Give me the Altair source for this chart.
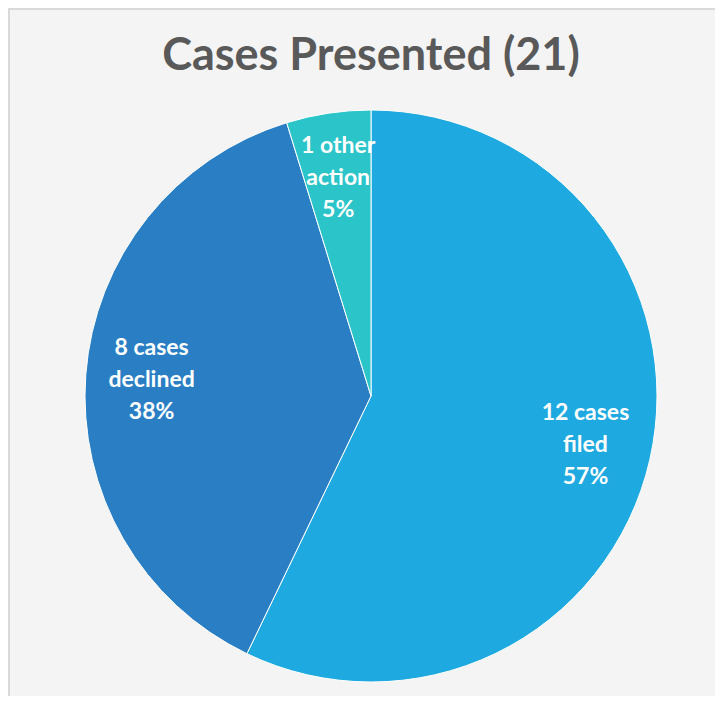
import altair as alt
import pandas as pd

categories = ["filed", "declined", "other"]
counts = [12, 8, 1]
labels = ["12 cases\nfiled\n57%", "8 cases\ndeclined\n38%", "1 other\naction\n5%"]
colors = ["#1FA9E1", "#2A7FC4", "#2BC4C9"]
title_text = "Cases Presented (21)"

df = pd.DataFrame({"category": categories, "count": counts, "label": labels,
                   "order": list(range(len(categories)))})

cx, cy, R = 363, 388, 286

base = alt.Chart(df).encode(
    theta=alt.Theta("count:Q", stack=True),
    order=alt.Order("order:Q"),
)

pie = base.mark_arc(outerRadius=R, stroke="white", strokeWidth=1).encode(
    color=alt.Color("category:N", scale=alt.Scale(domain=categories, range=colors), legend=None),
    x=alt.value(cx), y=alt.value(cy),
)

text = base.mark_text(radius=220, font="Lato", fontWeight="bold", fontSize=23,
                      color="white", lineHeight=32, lineBreak="\n", dy=-32,
                      baseline="middle", align="center").encode(
    text=alt.Text("label:N"),
    x=alt.value(cx), y=alt.value(cy),
)

title = alt.Chart(pd.DataFrame({"t": [title_text]})).mark_text(
    font="Lato", fontWeight="bold", fontSize=45, color="#595959", baseline="alphabetic", align="center"
).encode(text="t:N", x=alt.value(cx), y=alt.value(62))

border_left = alt.Chart(pd.DataFrame({"a": [0]})).mark_rule(color="#d9d9d9", strokeWidth=2).encode(
    x=alt.value(1), y=alt.value(0), y2=alt.value(688))
border_top = alt.Chart(pd.DataFrame({"a": [0]})).mark_rule(color="#d9d9d9", strokeWidth=2).encode(
    x=alt.value(0), x2=alt.value(707), y=alt.value(1))

chart = alt.layer(pie, text, title, border_left, border_top).properties(
    width=707, height=688, padding=0, autosize=alt.AutoSizeParams(type="none"),
    background="white",
).configure_view(fill="#f4f4f4", strokeWidth=0)

chart.save("out.html", embed_options={"renderer": "svg", "actions": False})
